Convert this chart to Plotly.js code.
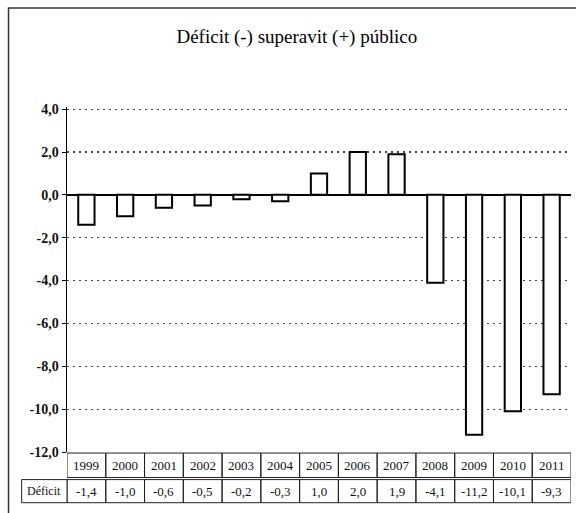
<!DOCTYPE html>
<html>
<head>
<meta charset="utf-8">
<script src="https://cdn.plot.ly/plotly-3.0.1.min.js"></script>
<style>html,body{margin:0;padding:0;background:#fff;}#chart{width:576px;height:513px;}</style>
</head>
<body>
<div id="chart"></div>
<script>
var years = ['1999','2000','2001','2002','2003','2004','2005','2006','2007','2008','2009','2010','2011'];
var deficit = [-1.4, -1.0, -0.6, -0.5, -0.2, -0.3, 1.0, 2.0, 1.9, -4.1, -11.2, -10.1, -9.3];
var deficitLabels = ['-1,4','-1,0','-0,6','-0,5','-0,2','-0,3','1,0','2,0','1,9','-4,1','-11,2','-10,1','-9,3'];
var rowLabel = 'Déficit';
var tickVals = [4, 2, 0, -2, -4, -6, -8, -10, -12];
var tickText = ['4,0','2,0','0,0','-2,0','-4,0','-6,0','-8,0','-10,0','-12,0'];

var serif = 'Liberation Serif';

var r1Top = -0.003, r1Bot = -0.074, r2Top = -0.080, r2Bot = -0.147;
var hdrLeft = -0.090;

var shapes = [];
var annotations = [];

shapes.push({type:'rect', xref:'paper', yref:'paper', x0:-0.116, x1:1.02, y0:-0.2, y1:1.287,
  line:{color:'#333', width:1.5}, fillcolor:'rgba(0,0,0,0)', layer:'below'});

years.forEach(function(y, i){
  shapes.push({type:'rect', xref:'x', yref:'paper', x0:i-0.5, x1:i+0.5, y0:r1Bot, y1:r1Top,
    line:{color:'#222', width:1}});
  shapes.push({type:'rect', xref:'x', yref:'paper', x0:i-0.5, x1:i+0.5, y0:r2Bot, y1:r2Top,
    line:{color:'#222', width:1}});
  annotations.push({xref:'x', yref:'paper', x:i, y:(r1Top+r1Bot)/2, text:y, showarrow:false,
    font:{family:serif, size:13, color:'#111'}, xanchor:'center', yanchor:'middle'});
  annotations.push({xref:'x', yref:'paper', x:i, y:(r2Top+r2Bot)/2, text:deficitLabels[i], showarrow:false,
    font:{family:serif, size:13, color:'#111'}, xanchor:'center', yanchor:'middle'});
});
shapes.push({type:'rect', xref:'paper', yref:'paper', x0:hdrLeft, x1:0, y0:r2Bot, y1:r2Top,
  line:{color:'#222', width:1}});
annotations.push({xref:'paper', yref:'paper', x:hdrLeft/2, y:(r2Top+r2Bot)/2, text:rowLabel, showarrow:false,
  font:{family:serif, size:12, color:'#111'}, xanchor:'center', yanchor:'middle'});

var trace = {
  type:'bar', x: years, y: deficit,
  marker:{color:'#ffffff', line:{color:'#000', width:2}},
  hoverinfo:'skip'
};

var layout = {
  width:576, height:513,
  margin:{l:67, r:5, t:107, b:61},
  paper_bgcolor:'#fff', plot_bgcolor:'#fff',
  showlegend:false,
  bargap:0.58,
  font:{family:serif},
  title:{text:'Déficit (-) superavit (+) público', font:{family:serif, size:19, color:'#000'},
    x:0.456, xanchor:'center', y:0.93, yanchor:'middle', xref:'paper'},
  xaxis:{type:'category', showticklabels:false, ticks:'', showgrid:false, zeroline:false,
    showline:false, range:[-0.5, 12.5], fixedrange:true},
  yaxis:{range:[-12, 4.1], tickvals:tickVals, ticktext:tickText, ticks:'outside', ticklen:4,
    tickcolor:'#000', showline:true, linecolor:'#000', linewidth:1.5,
    showgrid:true, gridcolor:'#444', griddash:'1.5px,4.5px', gridwidth:1.2,
    zeroline:true, zerolinecolor:'#000', zerolinewidth:2,
    tickfont:{family:serif, size:14, color:'#111', weight:'bold'}, fixedrange:true},
  shapes: shapes,
  annotations: annotations
};

Plotly.newPlot('chart', [trace], layout, {displayModeBar:false, staticPlot:true});
</script>
</body>
</html>
